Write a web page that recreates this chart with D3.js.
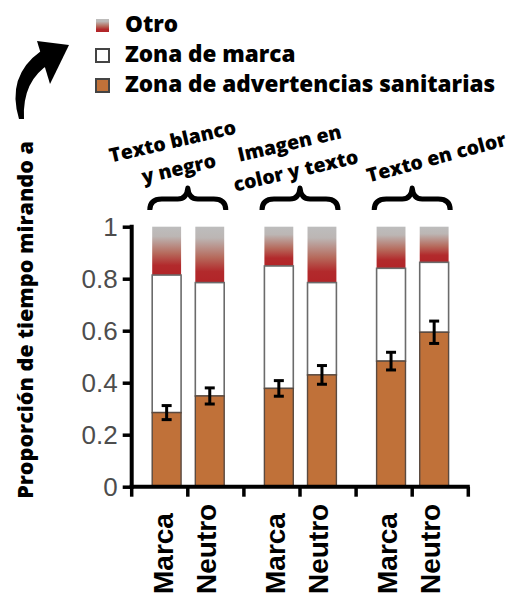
<!DOCTYPE html>
<html>
<head>
<meta charset="utf-8">
<script src="https://cdn.jsdelivr.net/npm/d3@7"></script>
<style>
  body { margin: 0; background: #fff; }
  .note { font-family: "Open Sans", sans-serif; font-weight: 800; fill: #000; }
</style>
</head>
<body>
<script>
// data
var groups = ["Texto blanco y negro", "Imagen en color y texto", "Texto en color"];
var groupLines = [["Texto blanco", "y negro"], ["Imagen en", "color y texto"], ["Texto en color"]];
var conditions = ["Marca", "Neutro"];
var healthZone = [0.285, 0.349, 0.378, 0.430, 0.483, 0.594];
var brandZone = [0.529, 0.436, 0.471, 0.355, 0.357, 0.269];
var otherZone = [0.186, 0.215, 0.151, 0.215, 0.160, 0.137];
var healthErr = [0.027, 0.031, 0.030, 0.036, 0.034, 0.043];
var yTicks = [0, 0.2, 0.4, 0.6, 0.8, 1];
var legendItems = ["Otro", "Zona de marca", "Zona de advertencias sanitarias"];

var w = 510, h = 597;

var svg = d3.select("body").append("svg")
    .attr("width", w)
    .attr("height", h);

var defs = svg.append("defs");
var grad = defs.append("linearGradient")
    .attr("id", "otroGrad")
    .attr("x1", 0).attr("y1", 0).attr("x2", 0).attr("y2", 1);
[[0, "#bdbdbd"], [0.2, "#bcb6b4"], [0.55, "#b66a5c"], [0.8, "#b22a2c"], [1, "#b22428"]].forEach(function (s) {
    grad.append("stop").attr("offset", s[0]).attr("stop-color", s[1]);
});

// build rows
var rows = [];
groups.forEach(function (g, gi) {
    conditions.forEach(function (c, ci) {
        var i = gi * 2 + ci;
        rows.push({ group: g, cond: c, health: healthZone[i], brand: brandZone[i], other: otherZone[i], err: healthErr[i] });
    });
});

var y = d3.scaleLinear().domain([0, 1]).range([486.7, 226.7]);
var x0 = d3.scaleBand().domain(groups).range([131.7, 468.3]).padding(0);
var x1 = d3.scaleBand().domain(conditions).range([20.5, 92.5]).paddingInner(0.33).paddingOuter(0);

function barX(d) { return x0(d.group) + x1(d.cond); }
var bw = x1.bandwidth();

var bars = svg.append("g").attr("class", "bars");

// otro (top)
bars.selectAll(".otro").data(rows).enter().append("rect")
    .attr("class", "otro")
    .attr("x", barX)
    .attr("width", bw)
    .attr("y", function (d) { return y(d.health + d.brand + d.other); })
    .attr("height", function (d) { return y(d.health + d.brand) - y(d.health + d.brand + d.other); })
    .style("fill", "url(#otroGrad)");

// brand zone (white)
bars.selectAll(".brand").data(rows).enter().append("rect")
    .attr("class", "brand")
    .attr("x", barX)
    .attr("width", bw)
    .attr("y", function (d) { return y(d.health + d.brand); })
    .attr("height", function (d) { return y(d.health) - y(d.health + d.brand); })
    .style("fill", "#fff")
    .style("stroke", "#6b6b6b")
    .style("stroke-width", 1.6);

// health warning zone (orange)
bars.selectAll(".health").data(rows).enter().append("rect")
    .attr("class", "health")
    .attr("x", barX)
    .attr("width", bw)
    .attr("y", function (d) { return y(d.health); })
    .attr("height", function (d) { return y(0) - y(d.health); })
    .style("fill", "#c07139")
    .style("stroke", "#5a4a40")
    .style("stroke-width", 1.4);

// error bars
var eb = bars.selectAll(".err").data(rows).enter().append("g")
    .attr("class", "err")
    .style("stroke", "#000")
    .style("stroke-width", 3);
eb.append("line")
    .attr("x1", function (d) { return barX(d) + bw / 2; })
    .attr("x2", function (d) { return barX(d) + bw / 2; })
    .attr("y1", function (d) { return y(d.health + d.err); })
    .attr("y2", function (d) { return y(d.health - d.err); });
[1, -1].forEach(function (s) {
    eb.append("line")
        .attr("x1", function (d) { return barX(d) + bw / 2 - 5; })
        .attr("x2", function (d) { return barX(d) + bw / 2 + 5; })
        .attr("y1", function (d) { return y(d.health + s * d.err); })
        .attr("y2", function (d) { return y(d.health + s * d.err); });
});

// y axis
var yAxis = d3.axisLeft(y).tickValues(yTicks).tickSize(9).tickPadding(5).tickFormat(d3.format(""));
var ya = svg.append("g")
    .attr("transform", "translate(131.7,0)")
    .call(yAxis);
ya.select(".domain").attr("d", "M0," + (y(1) - 2) + "V" + (y(0) + 2)).style("stroke", "#000").style("stroke-width", 4);
ya.selectAll(".tick line").style("stroke", "#000").style("stroke-width", 3.5);
ya.selectAll(".tick text")
    .style("font-family", "'Liberation Sans', Arial, sans-serif")
    .style("font-size", "26px")
    .style("fill", "#4d4d4d");

// x axis (ticks at group edges and centres)
var xa = svg.append("g").attr("class", "xaxis");
xa.append("line")
    .attr("x1", x0.range()[0] - 2).attr("x2", x0.range()[1] + 1.5)
    .attr("y1", y(0)).attr("y2", y(0))
    .style("stroke", "#000").style("stroke-width", 4);
var xTickPos = [];
groups.forEach(function (g) { xTickPos.push(x0(g), x0(g) + x0.bandwidth() / 2); });
xTickPos.push(x0.range()[1]);
xa.selectAll(".xt").data(xTickPos).enter().append("line")
    .attr("x1", function (d) { return d; }).attr("x2", function (d) { return d; })
    .attr("y1", y(0)).attr("y2", y(0) + 10)
    .style("stroke", "#000").style("stroke-width", 3.5);

// x labels, rotated
svg.selectAll(".xlab").data(rows).enter().append("text")
    .attr("class", "xlab")
    .attr("transform", function (d) { return "translate(" + (barX(d) + bw / 2 - 4) + ",594) rotate(-90)"; })
    .attr("dy", "0.36em")
    .style("font-family", "'Liberation Sans', Arial, sans-serif")
    .style("font-weight", "bold")
    .style("font-size", "28px")
    .text(function (d) { return d.cond; });

// y title
svg.append("text")
    .attr("class", "note")
    .attr("transform", "translate(33,320) rotate(-90)")
    .attr("text-anchor", "middle")
    .style("font-size", "21.5px")
    .text("Proporción de tiempo mirando a");

// group braces and labels
var braceG = svg.selectAll(".brace").data(groups).enter().append("g")
    .attr("class", "brace")
    .attr("transform", function (g) { return "translate(" + (x0(g) + x0.bandwidth() / 2) + ",0)"; });
braceG.append("path")
    .attr("d", "M-38,210 Q-38,199 -26,199 L-10,199 Q-1,199 0,188 Q1,199 10,199 L26,199 Q38,199 38,210")
    .style("fill", "none")
    .style("stroke", "#000")
    .style("stroke-width", 5)
    .style("stroke-linejoin", "round");

var labelPos = [[174, 148, -13], [291, 150, -13], [438, 164, -15]];
svg.selectAll(".glab").data(groupLines).enter().append("text")
    .attr("class", "note glab")
    .attr("text-anchor", "middle")
    .attr("transform", function (d, i) { return "translate(" + labelPos[i][0] + "," + labelPos[i][1] + ") rotate(" + labelPos[i][2] + ")"; })
    .style("font-size", "19.5px")
    .selectAll("tspan").data(function (d) { return d; }).enter().append("tspan")
    .attr("x", 0)
    .attr("dy", function (d, i) { return i === 0 ? 0 : 28; })
    .text(function (d) { return d; });

// legend
var legend = svg.selectAll(".leg").data(legendItems).enter().append("g")
    .attr("class", "leg")
    .attr("transform", function (d, i) { return "translate(96," + (19 + i * 30) + ")"; });
legend.append("rect")
    .attr("width", 13).attr("height", 13)
    .style("fill", function (d, i) { return ["url(#otroGrad)", "#fff", "#c07139"][i]; })
    .style("stroke", function (d, i) { return i === 0 ? "none" : "#444"; })
    .style("stroke-width", 2);
legend.append("text")
    .attr("class", "note")
    .attr("x", 29)
    .attr("y", 12.5)
    .style("font-size", "22.5px")
    .text(function (d) { return d; });

// curved arrow
svg.append("path")
    .attr("d", "M19,119 Q6,76 41,51 L51,63 Q22,80 24,119 Z")
    .style("fill", "#000");
svg.append("path")
    .attr("d", "M37,41 L69,45 L50,84 Z")
    .style("fill", "#000");
</script>
</body>
</html>
